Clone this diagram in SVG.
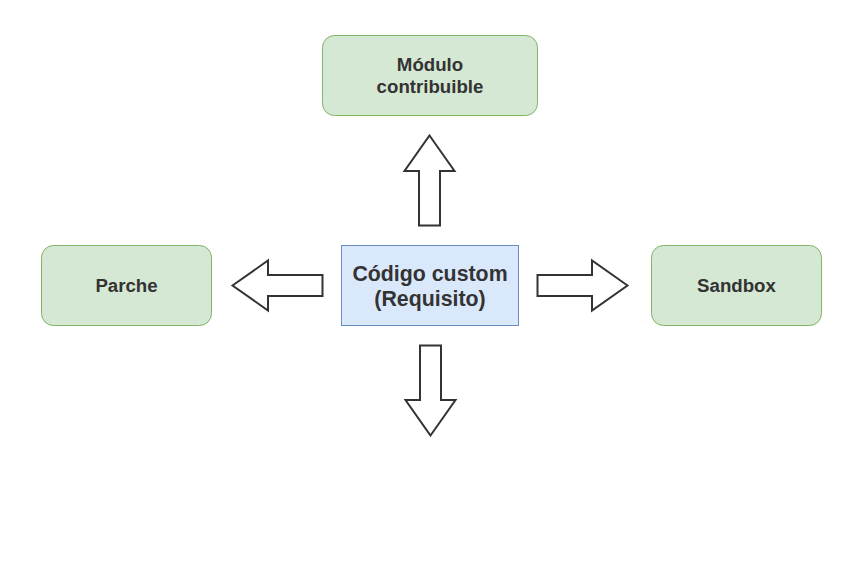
<svg xmlns="http://www.w3.org/2000/svg" width="857" height="572" viewBox="0 0 857 572">
<style>
.g{fill:#d5e8d4;stroke:#82b366;stroke-width:1}
.b{fill:#dae8fc;stroke:#6c8ebf;stroke-width:1}
.t{font-family:"Liberation Sans",Arial,sans-serif;font-weight:bold;fill:#333333;text-anchor:middle}
.s{font-size:18.67px}
.l{font-size:21.33px}
.a{fill:#ffffff;stroke:#333333;stroke-width:2;stroke-linejoin:miter}
</style>
<rect width="857" height="572" fill="#ffffff"/>
<g id="modulo">
<rect class="g" x="322.5" y="35.5" width="215" height="80" rx="12"/>
<text class="t s" x="430" y="71">Módulo</text>
<text class="t s" x="430" y="93">contribuible</text>
</g>
<g id="parche">
<rect class="g" x="41.5" y="245.5" width="170" height="80" rx="12"/>
<text class="t s" x="126.5" y="292">Parche</text>
</g>
<g id="codigo">
<rect class="b" x="341.5" y="245.5" width="177" height="80"/>
<text class="t l" x="430" y="281">Código custom</text>
<text class="t l" x="430" y="305.5">(Requisito)</text>
</g>
<g id="sandbox">
<rect class="g" x="651.5" y="245.5" width="170" height="80" rx="12"/>
<text class="t s" x="736.5" y="292">Sandbox</text>
</g>
<g id="connectors">
<polygon class="a" points="429.5,135.5 454.5,171 440,171 440,225.5 419,225.5 419,171 404.5,171"/>
<polygon class="a" points="232.5,285.5 268,260.5 268,275 322.5,275 322.5,296 268,296 268,310.5"/>
<polygon class="a" points="627.5,285.5 592,260.5 592,275 537.5,275 537.5,296 592,296 592,310.5"/>
<polygon class="a" points="430.5,435.5 455.5,400 441,400 441,345.5 420,345.5 420,400 405.5,400"/>
</g>
</svg>
